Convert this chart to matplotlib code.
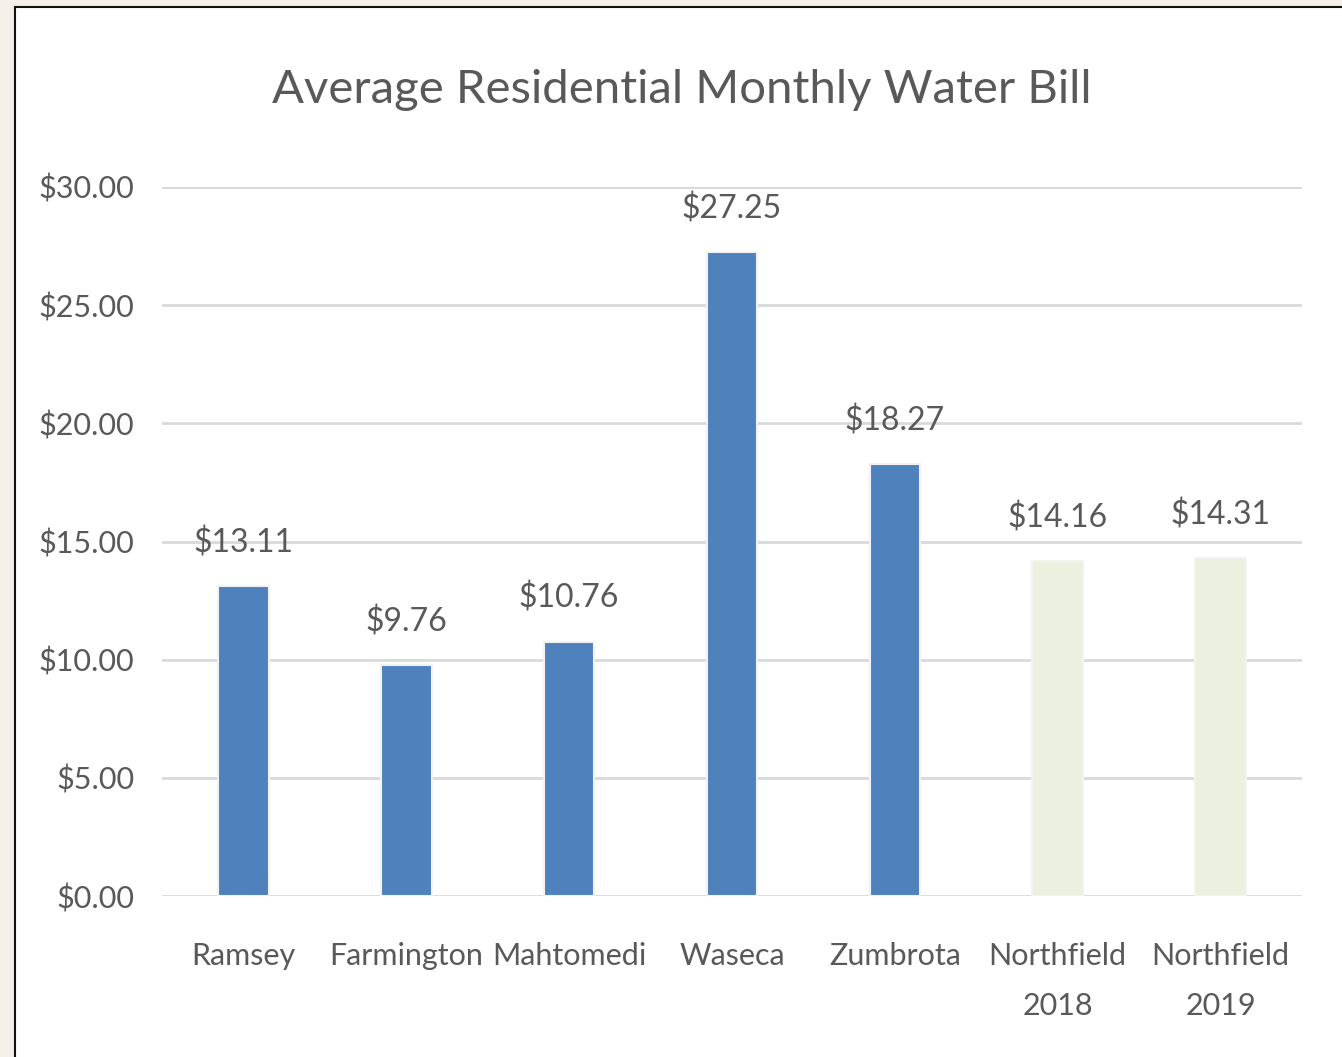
import matplotlib.pyplot as plt
from matplotlib.patches import Rectangle

# Data
cities = ['Ramsey', 'Farmington', 'Mahtomedi', 'Waseca', 'Zumbrota', 'Northfield\n2018', 'Northfield\n2019']
bills = [13.11, 9.76, 10.76, 27.25, 18.27, 14.16, 14.31]
labels = ['$13.11', '$9.76', '$10.76', '$27.25', '$18.27', '$14.16', '$14.31']
yticks = [0, 5, 10, 15, 20, 25, 30]

plt.rcParams['font.family'] = ['Lato', 'DejaVu Sans']

text_col = '#595959'
blue = '#4F81BD'
pale = '#EBF1DE'

W, H = 1342, 1057
fig = plt.figure(figsize=(W / 100, H / 100), dpi=100)
fig.patch.set_facecolor('#F3EFE9')

# white chart box with dark border on left and top
fig.patches.append(Rectangle((15 / W, -0.01), 1.02, (H - 7) / H + 0.01, transform=fig.transFigure,
                             facecolor='white', edgecolor='#111111', linewidth=1.5, zorder=-5))

ax = fig.add_axes([162 / W, 1 - 896 / H, (1302 - 162) / W, (896 - 187) / H], zorder=2)
ax.set_facecolor('none')

colors = [blue] * 5 + [pale] * 2
ax.bar(range(len(cities)), bills, width=0.31, color=colors, edgecolor='#F2F2F2', linewidth=1.5, zorder=3)

for i, (v, s) in enumerate(zip(bills, labels)):
    ax.annotate(s, (i, v), xytext=(0, 20), textcoords='offset points', ha='center', va='bottom',
                fontsize=23, color=text_col)

ax.set_xlim(-0.5, len(cities) - 0.5)
ax.set_ylim(0, 30)
ax.set_yticks(yticks)
ax.set_yticklabels(['${:.2f}'.format(t) for t in yticks])
ax.set_xticks(range(len(cities)))
ax.set_xticklabels(cities, linespacing=1.95)
ax.tick_params(axis='y', length=0, labelsize=22, labelcolor=text_col, pad=20)
ax.tick_params(axis='x', length=0, labelsize=22, labelcolor=text_col, pad=33)
ax.grid(axis='y', color='#D9D9D9', linewidth=2, zorder=0)
ax.set_axisbelow(True)
for sp in ax.spines.values():
    sp.set_visible(False)

fig.text(682 / W, 1 - 90 / H, 'Average Residential Monthly Water Bill', ha='center', va='center',
         fontsize=34, color=text_col)

fig.savefig('out.png', dpi=100, facecolor=fig.get_facecolor())
